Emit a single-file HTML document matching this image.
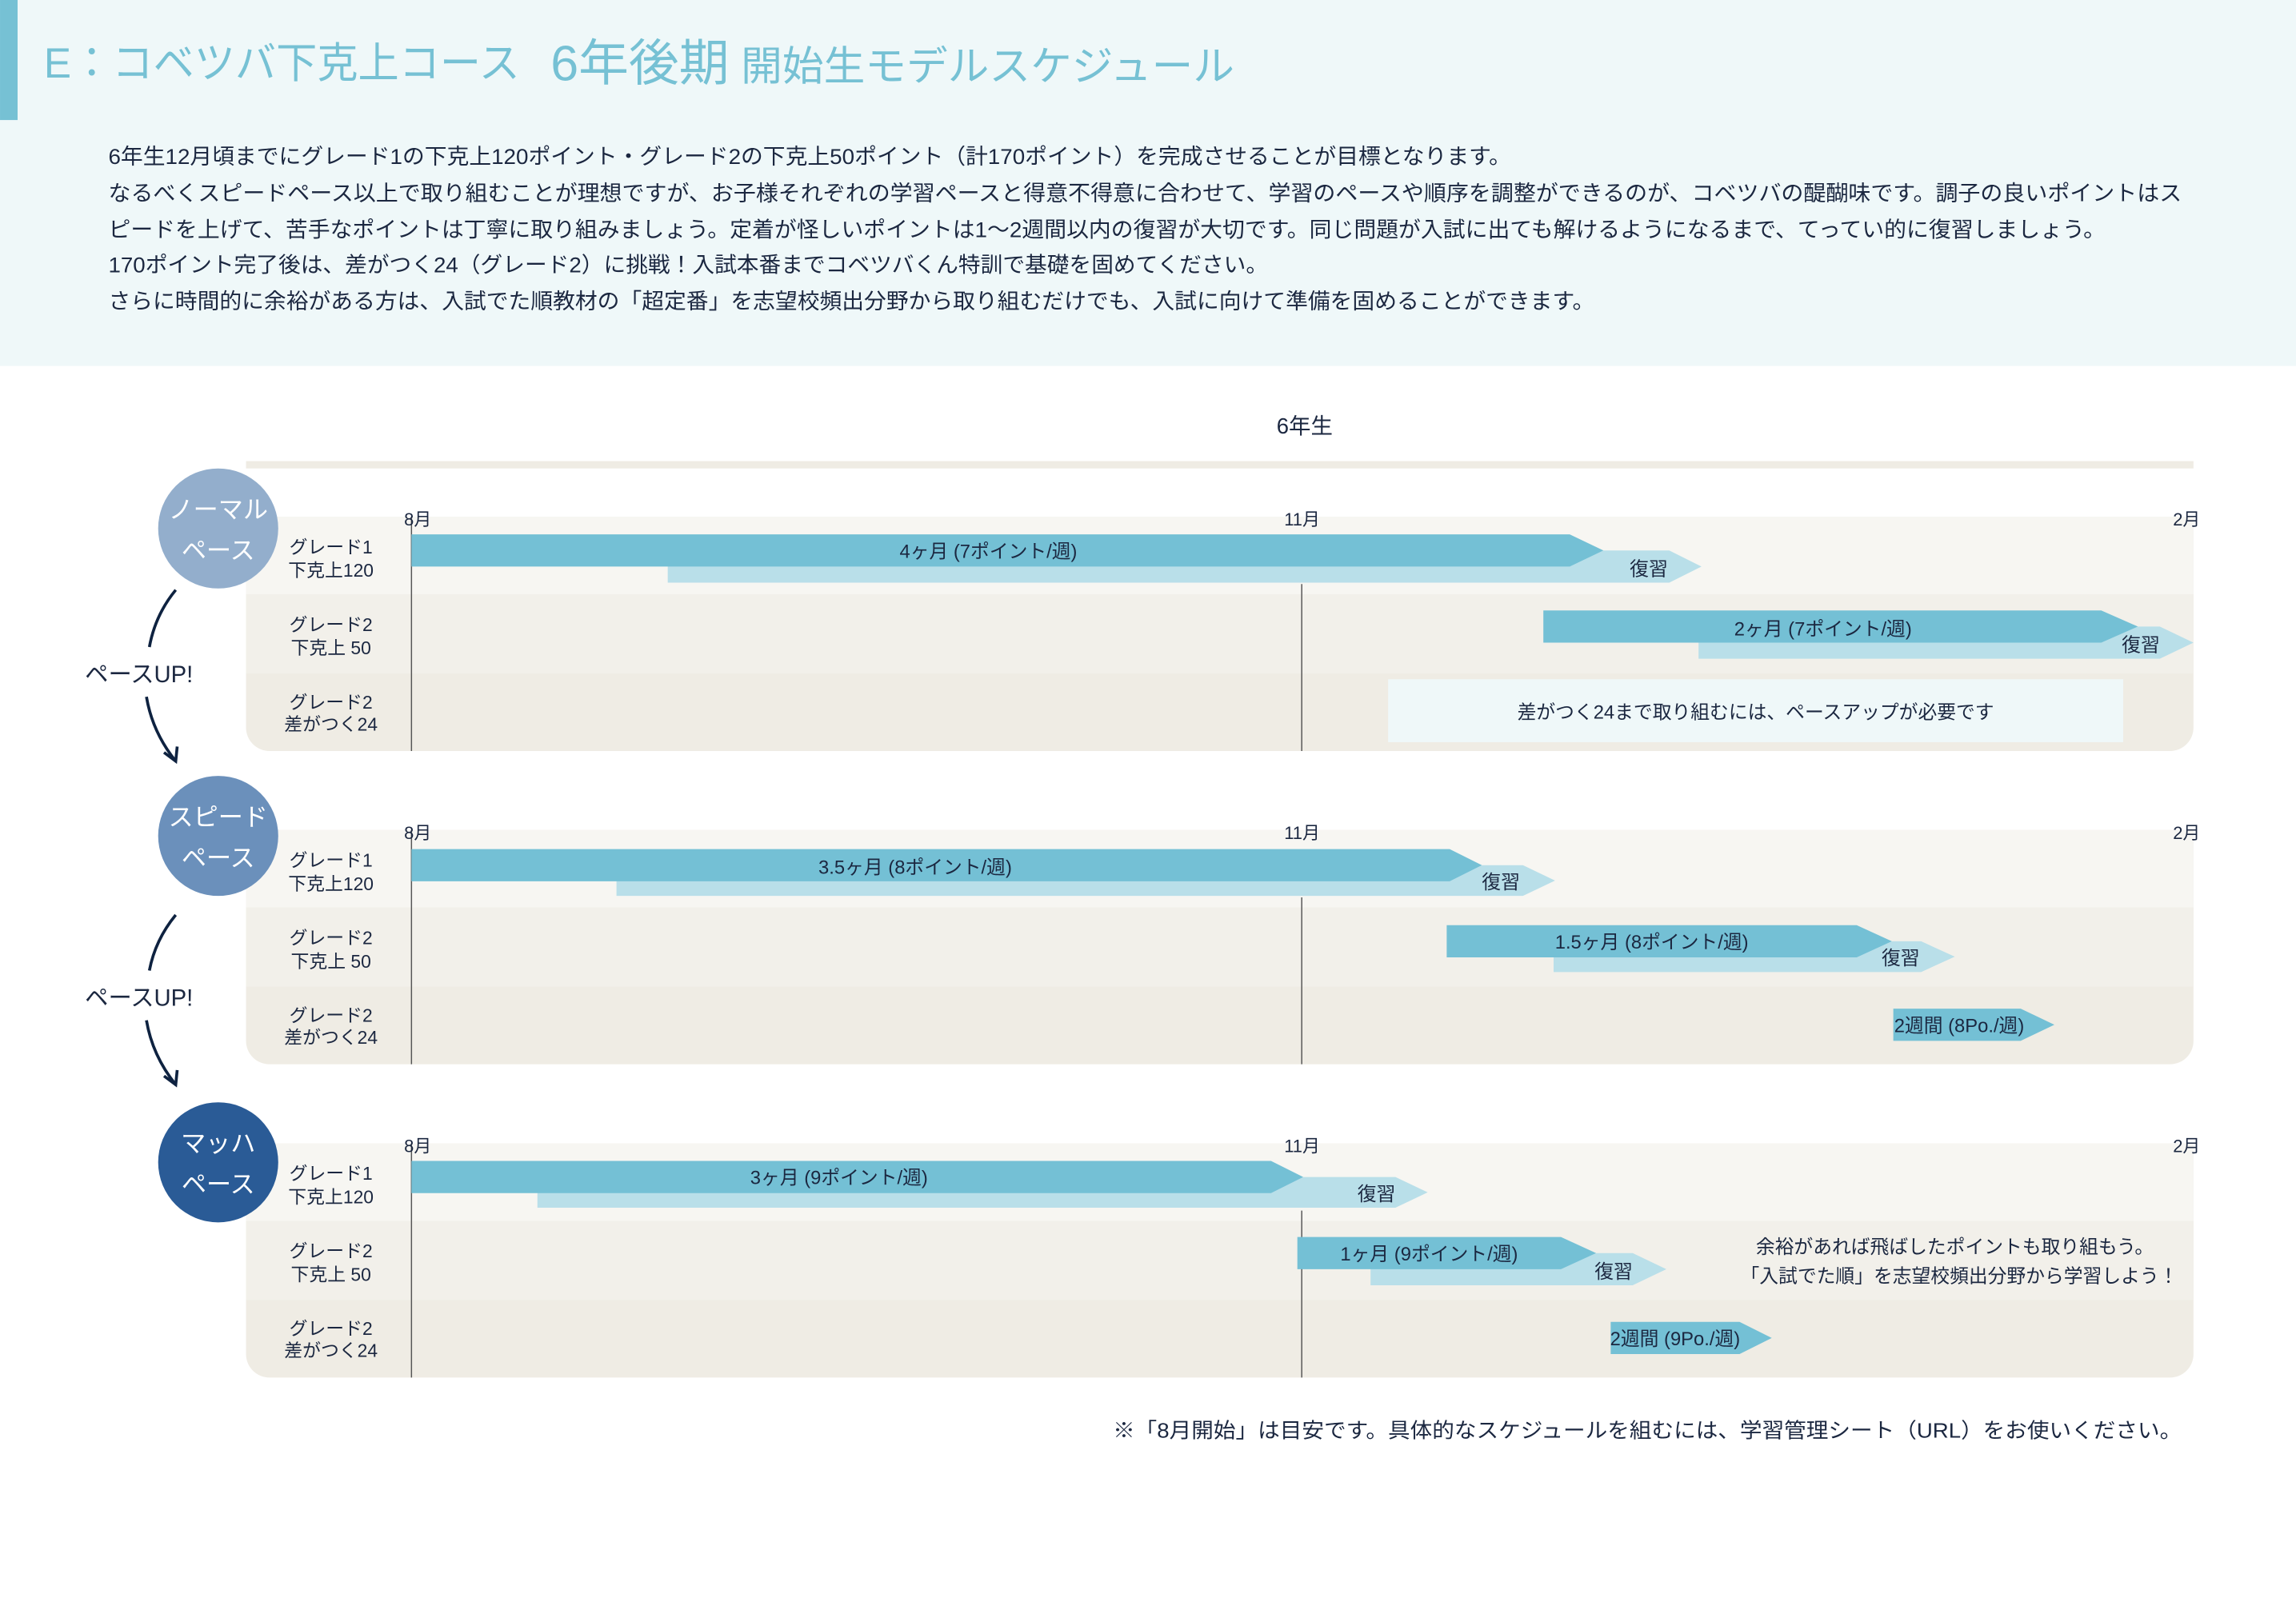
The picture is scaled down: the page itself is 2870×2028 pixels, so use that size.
<!DOCTYPE html>
<html><head><meta charset="utf-8"><style>
html,body{margin:0;padding:0;background:#fff;}
svg{display:block;}
text{font-family:"Liberation Sans","Noto Sans CJK JP",sans-serif;fill:#1b2740;}
</style></head><body>
<svg width="2870" height="2028" viewBox="0 0 1568 1108" xmlns="http://www.w3.org/2000/svg">
<rect x="0" y="0" width="1568" height="250" fill="#eff8f9"/>
<rect x="0" y="0" width="12" height="82" fill="#76c1d4"/>
<text x="30" y="53" textLength="325" lengthAdjust="spacingAndGlyphs" style="fill:#76c1d4;font-size:29px">E：コベツバ下克上コース</text>
<text x="376" y="55" textLength="122" lengthAdjust="spacingAndGlyphs" style="fill:#76c1d4;font-size:34px">6年後期</text>
<text x="506" y="55" textLength="337" lengthAdjust="spacingAndGlyphs" style="fill:#76c1d4;font-size:28px">開始生モデルスケジュール</text>
<g style="font-size:14.8px">
<text x="74" y="112" textLength="958" lengthAdjust="spacingAndGlyphs">6年生12月頃までにグレード1の下克上120ポイント・グレード2の下克上50ポイント（計170ポイント）を完成させることが目標となります。</text>
<text x="74" y="137" textLength="1416" lengthAdjust="spacingAndGlyphs">なるべくスピードペース以上で取り組むことが理想ですが、お子様それぞれの学習ペースと得意不得意に合わせて、学習のペースや順序を調整ができるのが、コベツバの醍醐味です。調子の良いポイントはス</text>
<text x="74" y="162" textLength="1364" lengthAdjust="spacingAndGlyphs">ピードを上げて、苦手なポイントは丁寧に取り組みましょう。定着が怪しいポイントは1〜2週間以内の復習が大切です。同じ問題が入試に出ても解けるようになるまで、てってい的に復習しましょう。</text>
<text x="74" y="186" textLength="792" lengthAdjust="spacingAndGlyphs">170ポイント完了後は、差がつく24（グレード2）に挑戦！入試本番までコベツバくん特訓で基礎を固めてください。</text>
<text x="74" y="211" textLength="1015" lengthAdjust="spacingAndGlyphs">さらに時間的に余裕がある方は、入試でた順教材の「超定番」を志望校頻出分野から取り組むだけでも、入試に向けて準備を固めることができます。</text>
</g>
<text x="891" y="296" text-anchor="middle" style="font-size:15px">6年生</text>
<rect x="168" y="315" width="1330" height="5" fill="#efece4"/>

<defs>
<g id="blk">
<path d="M168 0 H1498 V144 a16 16 0 0 1 -16 16 H184 a16 16 0 0 1 -16 -16 Z" fill="#efece4"/>
<rect x="168" y="0" width="1330" height="53" fill="#f7f6f2"/>
<rect x="168" y="53" width="1330" height="54" fill="#f2f0ea"/>
<line x1="281" y1="0" x2="281" y2="160" stroke="#555" stroke-width="0.8"/>
<line x1="889" y1="46" x2="889" y2="160" stroke="#555" stroke-width="0.8"/>
<text x="276" y="6" style="font-size:12px">8月</text>
<text x="877" y="6" style="font-size:12px">11月</text>
<text x="1484" y="6" style="font-size:12px">2月</text>
<g style="font-size:12.5px" text-anchor="middle">
<text x="226" y="25">グレード1</text><text x="226" y="41">下克上120</text>
<text x="226" y="78">グレード2</text><text x="226" y="94">下克上 50</text>
<text x="226" y="131">グレード2</text><text x="226" y="146">差がつく24</text>
</g>
</g>
</defs>
<use href="#blk" transform="translate(0,353)"/>
<use href="#blk" transform="translate(0,567)"/>
<use href="#blk" transform="translate(0,781)"/>

<g fill="#b9dfe9">
<polygon points="456,376 1140,376 1162,387 1140,398 456,398"/>
<polygon points="1160,428 1475,428 1498,439 1475,450 1160,450"/>
<polygon points="421,591 1040,591 1062,601.5 1040,612 421,612"/>
<polygon points="1061,643 1312,643 1335,653.5 1312,664 1061,664"/>
<polygon points="367,804 953,804 975,814.5 953,825 367,825"/>
<polygon points="936,856 1115,856 1138,867 1115,878 936,878"/>
</g>
<g fill="#74c0d5">
<polygon points="281,365 1072,365 1095,376 1072,387 281,387"/>
<polygon points="1054,417 1435,417 1460,428 1435,439 1054,439"/>
<polygon points="281,580 990,580 1012,591 990,602 281,602"/>
<polygon points="988,632 1268,632 1292,643 1268,654 988,654"/>
<polygon points="1293,689 1380,689 1403,700 1380,711 1293,711"/>
<polygon points="281,793 868,793 890,804 868,815 281,815"/>
<polygon points="886,845 1066,845 1090,856 1066,867 886,867"/>
<polygon points="1100,903 1188,903 1210,914 1188,925 1100,925"/>
</g>
<rect x="948" y="464" width="502" height="43" fill="#eff8f9"/>
<g style="font-size:13px" text-anchor="middle">
<text x="675" y="381">4ヶ月 (7ポイント/週)</text>
<text x="1126" y="393">復習</text>
<text x="1245" y="434">2ヶ月 (7ポイント/週)</text>
<text x="1462" y="445">復習</text>
<text x="1199" y="491">差がつく24まで取り組むには、ペースアップが必要です</text>
<text x="625" y="597">3.5ヶ月 (8ポイント/週)</text>
<text x="1025" y="607">復習</text>
<text x="1128" y="648">1.5ヶ月 (8ポイント/週)</text>
<text x="1298" y="659">復習</text>
<text x="1338" y="705">2週間 (8Po./週)</text>
<text x="573" y="809">3ヶ月 (9ポイント/週)</text>
<text x="940" y="820">復習</text>
<text x="976" y="861">1ヶ月 (9ポイント/週)</text>
<text x="1102" y="873">復習</text>
<text x="1144" y="919">2週間 (9Po./週)</text>
<text x="1335" y="856">余裕があれば飛ばしたポイントも取り組もう。</text>
<text x="1338" y="876">「入試でた順」を志望校頻出分野から学習しよう！</text>
</g>

<circle cx="149" cy="361" r="41" fill="#93aecc"/>
<circle cx="149" cy="571" r="41" fill="#6b90bb"/>
<circle cx="149" cy="794" r="41" fill="#2a5b96"/>
<g style="font-size:17px" text-anchor="middle">
<text x="149" y="354" style="fill:#fff">ノーマル</text><text x="149" y="382" style="fill:#fff">ペース</text>
<text x="149" y="564" style="fill:#fff">スピード</text><text x="149" y="592" style="fill:#fff">ペース</text>
<text x="149" y="787" style="fill:#fff">マッハ</text><text x="149" y="815" style="fill:#fff">ペース</text>
</g>
<text x="58" y="466" style="font-size:16px">ペースUP!</text>
<text x="58" y="687" style="font-size:16px">ペースUP!</text>
<g fill="none" stroke="#0e2240" stroke-width="2">
<path d="M120 403 Q106 420 102 442"/>
<path d="M100 476 Q104 500 120 520"/>
<path d="M112 514 L120 520 L121 510"/>
<path d="M120 625 Q106 642 102 663"/>
<path d="M100 697 Q104 721 120 741"/>
<path d="M112 735 L120 741 L121 731"/>
</g>
<text x="760" y="982" textLength="730" lengthAdjust="spacingAndGlyphs" style="font-size:14.3px">※「8月開始」は目安です。具体的なスケジュールを組むには、学習管理シート（URL）をお使いください。</text>
</svg>
</body></html>
